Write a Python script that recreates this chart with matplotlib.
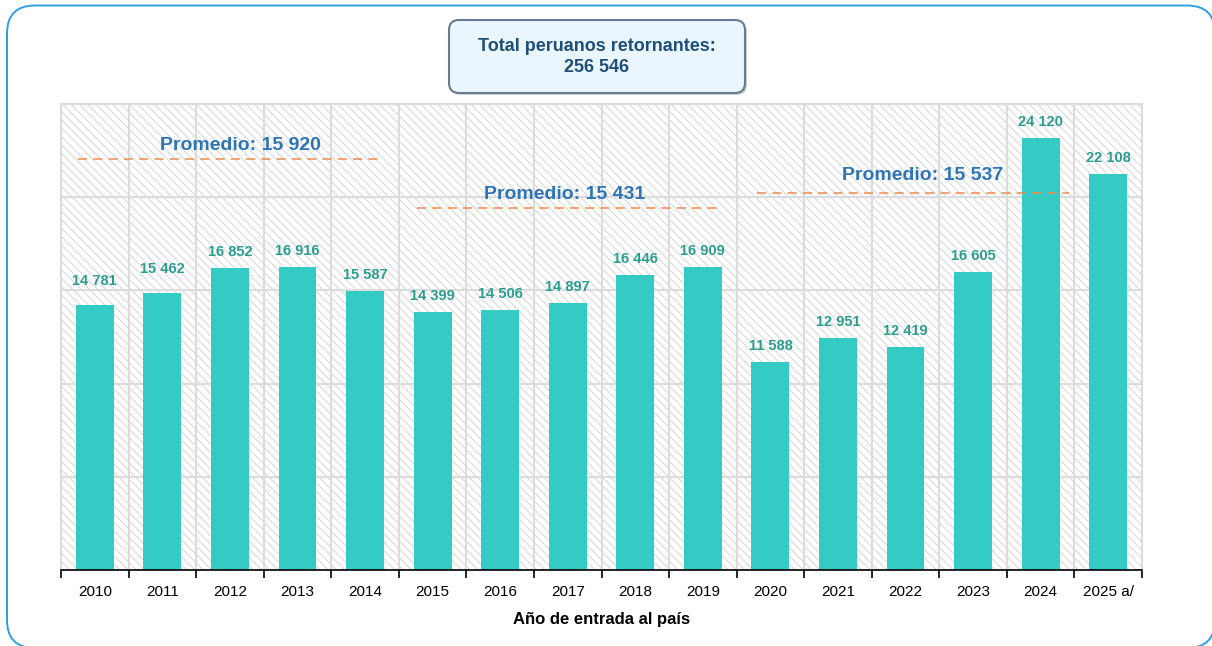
import matplotlib
matplotlib.use("Agg")
import matplotlib.pyplot as plt
from matplotlib.patches import FancyBboxPatch, Rectangle
from matplotlib.lines import Line2D
from matplotlib.transforms import IdentityTransform
import numpy as np

# ---------------- data ----------------
years = ["2010", "2011", "2012", "2013", "2014", "2015", "2016", "2017",
         "2018", "2019", "2020", "2021", "2022", "2023", "2024", "2025 a/"]
values = [14781, 15462, 16852, 16916, 15587, 14399, 14506, 14897,
          16446, 16909, 11588, 12951, 12419, 16605, 24120, 22108]
label_gap_px = [20, 20, 12, 12, 12, 12, 12, 12, 12, 12, 12, 12, 12, 12, 12, 12]

avg_labels = ["Promedio: 15 920", "Promedio: 15 431", "Promedio: 15 537"]
avg_spans = [(-0.25, 4.27), (4.77, 9.28), (9.80, 14.42)]   # x extents (category units)
avg_line_y = [22950, 20220, 21050]                          # drawn position (decorative)
avg_text_xy = [(2.15, 23450), (6.96, 20720), (12.26, 21740)]

total_title = "Total peruanos retornantes:\n256 546"
xlabel = "Año de entrada al país"

# ---------------- style ----------------
plt.rcParams["font.family"] = ["Liberation Sans", "DejaVu Sans"]
plt.rcParams["hatch.linewidth"] = 0.6
plt.rcParams["hatch.color"] = "#d0d0d0"

BAR = "#33CBC4"
LBL = "#2A9D8F"
AVG_TXT = "#2E75B6"
AVG_LINE = "#F08A4B"
GRID = "#dcdcdc"

fig = plt.figure(figsize=(12.12, 6.46), dpi=100)
ax = fig.add_axes([61/1212, 1-570/646, (1142-61)/1212, (570-104)/646])

n = len(years)
x = np.arange(n)
ax.set_xlim(-0.5, n-0.5)
ax.set_ylim(0, 26000)

# hatched background
bg = Rectangle((0, 0), 1, 1, transform=ax.transAxes, facecolor="white",
               edgecolor="#d0d0d0", hatch="\\\\\\\\", linewidth=0, zorder=0)
ax.add_patch(bg)

bars = ax.bar(x, values, width=0.56, color=BAR, zorder=3)

for xi, v, g in zip(x, values, label_gap_px):
    ax.annotate(f"{v:,}".replace(",", " "), (xi, v), xytext=(0, g),
                textcoords="offset pixels", ha="center", va="baseline",
                fontsize=10.5, fontweight="bold", color=LBL, zorder=5)

# averages
for lab, (x0, x1), yl, (tx, ty) in zip(avg_labels, avg_spans, avg_line_y, avg_text_xy):
    ax.plot([x0, x1], [yl, yl], color=AVG_LINE, lw=1.1, ls=(0, (6, 4)), zorder=4)
    ax.text(tx, ty, lab, ha="center", va="baseline", fontsize=14,
            fontweight="bold", color=AVG_TXT, zorder=5)

# grid
ax.set_yticks(np.arange(0, 26001, 5200))
ax.yaxis.grid(True, color=GRID, lw=1.5, zorder=1)
ax.set_xticks(x)
ax.set_xticks(np.arange(-0.5, n, 1), minor=True)
ax.xaxis.grid(True, which="minor", color=GRID, lw=1.5, zorder=1)
ax.set_axisbelow(True)
ax.tick_params(axis="y", length=0, labelleft=False)
ax.tick_params(axis="x", which="major", length=0, pad=11, labelsize=11, colors="black")
ax.tick_params(axis="x", which="minor", length=6, width=1.2, color="black", direction="out")
ax.set_xticklabels(years)
for side in ["left", "right", "top"]:
    ax.spines[side].set_color(GRID)
    ax.spines[side].set_linewidth(1.5)
ax.spines["bottom"].set_color("black")
ax.spines["bottom"].set_linewidth(1.2)
ax.spines["bottom"].set_zorder(6)

ax.set_xlabel(xlabel, fontsize=12, fontweight="bold", labelpad=9)

# outer rounded frame (display pixels), drawn as an open polyline
frame_shape = FancyBboxPatch((7, -2), 1208, 642.5, boxstyle="round,pad=0,rounding_size=28")
verts = frame_shape.get_path().to_polygons(closed_only=False)[0]
frame = Line2D(verts[:, 0], verts[:, 1], transform=IdentityTransform(),
               color="#2E9FE0", linewidth=1.4, zorder=0)
fig.add_artist(frame)

# title box
shadow = FancyBboxPatch((451, 646-95), 296, 73, boxstyle="round,pad=0,rounding_size=10",
                        transform=IdentityTransform(), facecolor="#9aa6b5",
                        edgecolor="none", alpha=0.5, zorder=1)
fig.add_artist(shadow)
tbox = FancyBboxPatch((449, 646-93), 296, 73, boxstyle="round,pad=0,rounding_size=10",
                      transform=IdentityTransform(), facecolor="#EAF6FD",
                      edgecolor="#6A7A90", linewidth=1.5, zorder=2)
fig.add_artist(tbox)
fig.text(597/1212, 1-57/646, total_title, ha="center", va="center", fontsize=13,
         fontweight="bold", color="#1F4E79", linespacing=1.25, zorder=3)

fig.savefig("out.png", dpi=100)
